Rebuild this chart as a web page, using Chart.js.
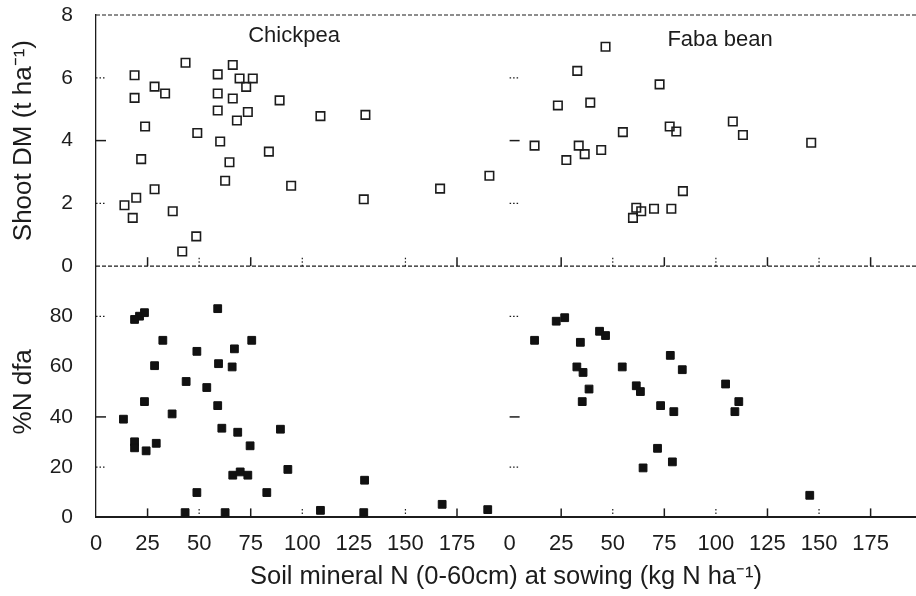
<!DOCTYPE html>
<html>
<head>
<meta charset="utf-8">
<script src="https://cdn.jsdelivr.net/npm/chart.js@4.4.1/dist/chart.umd.min.js"></script>
<style>
  html, body { margin: 0; padding: 0; background: #fff; }
  #wrap { width: 916px; height: 596px; }
</style>
</head>
<body>
<div id="wrap"><canvas id="chart"></canvas></div>
<script>
// Soil mineral N (x) and shoot DM (y), chickpea
const chickpeaDmSoilN = [18.7, 18.7, 28.4, 33.5, 43.4, 59.0, 59.0, 59.0, 66.3, 66.3, 69.6, 72.8, 76.0, 73.6, 68.3, 89.0, 108.8, 130.6,
    23.8, 49.1, 60.2, 21.9, 64.7, 83.8, 62.6, 28.4, 94.6, 19.5, 13.8, 17.8, 37.2, 129.8, 166.8, 190.7, 48.6, 41.8];
const chickpeaDm = [6.08, 5.36, 5.72, 5.5, 6.48, 6.11, 5.5, 4.96, 6.41, 5.34, 5.98, 5.71, 5.98, 4.91, 4.64, 5.28, 4.78, 4.82,
    4.45, 4.24, 3.97, 3.41, 3.31, 3.65, 2.72, 2.45, 2.56, 2.18, 1.94, 1.54, 1.75, 2.13, 2.47, 2.88, 0.95, 0.47];

// faba bean
const fabaDmSoilN = [46.5, 32.8, 72.7, 23.4, 39.1, 54.9, 77.6, 80.8, 108.2, 113.1, 146.2, 12.1, 27.5, 33.5, 36.4, 44.4,
    84.0, 61.4, 59.8, 63.8, 70.0, 78.4];
const fabaDm = [6.99, 6.22, 5.79, 5.12, 5.21, 4.27, 4.45, 4.29, 4.61, 4.18, 3.93, 3.84, 3.38, 3.84, 3.57, 3.70,
    2.39, 1.86, 1.54, 1.75, 1.83, 1.83];

// Soil mineral N (x) and %Ndfa (y)
const chickpeaNdfaSoilN = [21.1, 18.7, 23.5, 59.0, 32.4, 75.5, 48.9, 67.1, 28.4, 59.4, 66.0, 43.7, 53.7, 59.0, 23.5, 36.9,
    13.3, 61.0, 68.7, 89.4, 74.7, 18.7, 18.7, 24.3, 29.2, 93.0, 66.3, 69.9, 73.6, 130.2, 48.9, 82.8, 108.8, 43.2, 62.6,
    129.8, 167.8, 189.9];
const chickpeaNdfa = [80.1, 78.8, 81.5, 83.1, 70.5, 70.5, 66.1, 67.1, 60.4, 61.2, 59.9, 54.1, 51.7, 44.5, 46.1, 41.2,
    39.1, 35.5, 33.9, 35.1, 28.5, 30.1, 27.7, 26.5, 29.5, 19.1, 16.8, 18.1, 16.8, 14.8, 9.9, 9.9, 2.8, 1.9, 1.9,
    1.9, 5.2, 3.1];

const fabaNdfaSoilN = [22.6, 26.7, 12.1, 34.3, 43.6, 46.5, 77.9, 83.7, 32.6, 35.6, 54.6, 38.5, 61.4, 63.4, 35.2, 104.7,
    111.1, 109.2, 73.2, 79.6, 71.7, 64.7, 78.9, 145.5];
const fabaNdfa = [78.1, 79.5, 70.5, 69.7, 74.1, 72.4, 64.5, 58.8, 59.9, 57.7, 59.9, 51.1, 52.4, 50.1, 46.1, 53.1,
    46.1, 42.1, 44.5, 42.1, 27.5, 19.7, 22.1, 8.8];

const xTicks = [0, 25, 50, 75, 100, 125, 150, 175];
const dmTicks = [0, 2, 4, 6, 8];
const ndfaTicks = [0, 20, 40, 60, 80];
const panelNames = ['Chickpea', 'Faba bean'];

const ink = '#1c1c1c';
Chart.defaults.font.family = "'Liberation Sans', Arial, sans-serif";
Chart.defaults.color = ink;

const pairs = (xs, ys) => xs.map((x, i) => ({ x: x, y: ys[i] }));

// dashed frame, inward tick marks and crop names
const panelFrame = {
    id: 'panelFrame',
    beforeDatasetsDraw(chart) {
        const { ctx, chartArea, scales } = chart;
        const { xC, xF, yDM, yN } = scales;
        ctx.save();
        ctx.strokeStyle = ink;

        // top and middle dashed lines
        ctx.lineWidth = 1.2;
        ctx.setLineDash([4, 2]);
        [yDM.top, yDM.bottom].forEach(y => {
            ctx.beginPath();
            ctx.moveTo(chartArea.left, y);
            ctx.lineTo(chartArea.right, y);
            ctx.stroke();
        });

        // y tick marks, pointing in, on both panels
        const tickStyle = (major) => {
            ctx.setLineDash(major ? [] : [1.5, 2]);
            ctx.lineWidth = major ? 1.5 : 1.2;
        };
        [xC.left, xF.left].forEach(x0 => {
            dmTicks.slice(1, -1).forEach(v => {
                tickStyle(v === 4);
                const y = yDM.getPixelForValue(v);
                ctx.beginPath(); ctx.moveTo(x0, y); ctx.lineTo(x0 + 10, y); ctx.stroke();
            });
            ndfaTicks.slice(1).forEach(v => {
                if (v === 60) return;
                tickStyle(v === 40);
                const y = yN.getPixelForValue(v);
                ctx.beginPath(); ctx.moveTo(x0, y); ctx.lineTo(x0 + 10, y); ctx.stroke();
            });
        });

        // x tick marks, pointing up, at the foot of both rows
        [xC, xF].forEach(sc => {
            xTicks.slice(1).forEach(v => {
                if (sc === xC && v === 125) return;
                tickStyle(v % 50 !== 0);
                const x = sc.getPixelForValue(v);
                [yDM.bottom, yN.bottom].forEach(y => {
                    ctx.beginPath(); ctx.moveTo(x, y); ctx.lineTo(x, y - 9); ctx.stroke();
                });
            });
        });

        // crop names
        ctx.setLineDash([]);
        ctx.fillStyle = ink;
        ctx.font = "22px 'Liberation Sans', Arial, sans-serif";
        ctx.textAlign = 'center';
        ctx.textBaseline = 'middle';
        ctx.fillText(panelNames[0], xC.getPixelForValue(96), yDM.getPixelForValue(7.33));
        ctx.fillText(panelNames[1], xF.getPixelForValue(102), yDM.getPixelForValue(7.2));
        ctx.restore();
    }
};

const xScale = (max) => ({
    type: 'linear',
    position: 'bottom',
    stack: 'x',
    stackWeight: max,
    min: 0,
    max: max,
    afterBuildTicks: s => { s.ticks = xTicks.map(v => ({ value: v })); },
    afterFit: s => { s.height = 39; s.paddingLeft = 0; s.paddingRight = 0; },
    grid: { display: false },
    border: { display: true, color: ink, width: 2 },
    ticks: { font: { size: 22 }, padding: 5, maxRotation: 0, autoSkip: false }
});

const yScale = (ticks, max, weight, title) => ({
    type: 'linear',
    position: 'left',
    stack: 'y',
    stackWeight: 1,
    weight: weight,
    min: 0,
    max: max,
    afterBuildTicks: s => { s.ticks = ticks.map(v => ({ value: v })); },
    afterFit: s => { s.width = 96; s.paddingTop = 0; s.paddingBottom = 0; },
    grid: { display: false },
    border: { display: true, color: ink, width: 1.3, dash: [4, 2] },
    ticks: { font: { size: 21 }, padding: 15 },
    title: { display: true, text: title, font: { size: 26 }, padding: { top: 8, bottom: 0 } }
});

const openSquare = {
    pointStyle: 'rect',
    pointRadius: 6,
    pointHoverRadius: 6,
    pointBorderWidth: 1.6,
    borderColor: ink,
    backgroundColor: 'rgba(255,255,255,0)',
    showLine: false
};
const solidSquare = {
    pointStyle: 'rect',
    pointRadius: 5.5,
    pointHoverRadius: 5.5,
    pointBorderWidth: 1,
    borderColor: '#111',
    backgroundColor: '#111',
    showLine: false
};

new Chart(document.getElementById('chart'), {
    type: 'scatter',
    data: {
        datasets: [
            { label: 'Chickpea shoot DM', data: pairs(chickpeaDmSoilN, chickpeaDm), xAxisID: 'xC', yAxisID: 'yDM', ...openSquare },
            { label: 'Faba bean shoot DM', data: pairs(fabaDmSoilN, fabaDm), xAxisID: 'xF', yAxisID: 'yDM', ...openSquare },
            { label: 'Chickpea %Ndfa', data: pairs(chickpeaNdfaSoilN, chickpeaNdfa), xAxisID: 'xC', yAxisID: 'yN', ...solidSquare },
            { label: 'Faba bean %Ndfa', data: pairs(fabaNdfaSoilN, fabaNdfa), xAxisID: 'xF', yAxisID: 'yN', ...solidSquare }
        ]
    },
    options: {
        responsive: true,
        maintainAspectRatio: false,
        animation: false,
        layout: { autoPadding: false, padding: { top: 15, right: 0, bottom: 0, left: 0 } },
        scales: {
            xC: xScale(200.5),
            xF: xScale(197),
            yDM: yScale(dmTicks, 8, 1, 'Shoot DM (t ha⁻¹)'),
            yN: yScale(ndfaTicks, 100, 0, '%N dfa')
        },
        plugins: {
            legend: { display: false },
            tooltip: { enabled: false },
            title: {
                display: true,
                position: 'bottom',
                fullSize: false,
                text: 'Soil mineral N (0-60cm) at sowing (kg N ha⁻¹)',
                font: { size: 25.5, weight: 'normal' },
                color: ink,
                padding: { top: 5, bottom: 4 }
            }
        }
    },
    plugins: [panelFrame]
});
</script>
</body>
</html>
